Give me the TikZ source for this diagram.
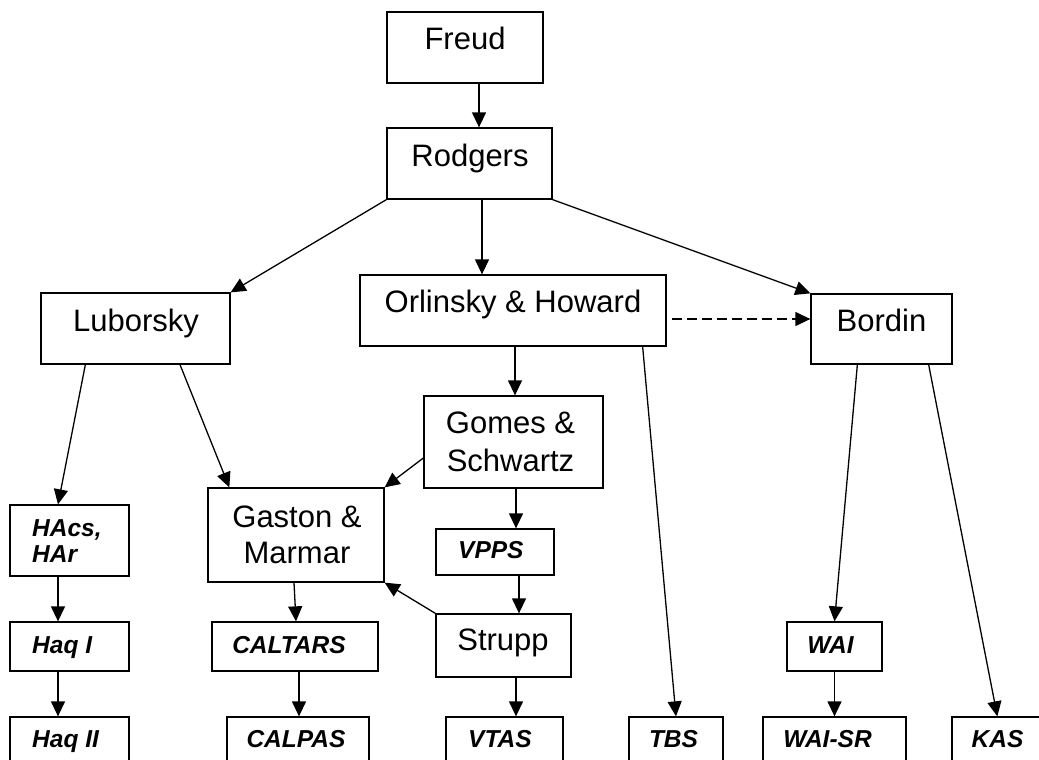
\documentclass[tikz,border=0pt]{standalone}
\usepackage{fontspec}
\setmainfont{Liberation Sans}
\usetikzlibrary{arrows.meta}
\begin{document}
\begin{tikzpicture}[x=1pt,y=-1pt,
  box/.style={draw, line width=1.3pt, inner sep=0pt, rectangle},
  big/.style={inner sep=0pt, font=\fontsize{31}{37}\selectfont},
  small/.style={inner sep=0pt, font=\fontsize{24.5}{26}\selectfont\bfseries\itshape},
  arr/.style={line width=1.3pt, -{Triangle[length=15pt,width=14pt]}},
  dasharr/.style={arr, dash pattern=on 10pt off 5pt}]
\useasboundingbox (0,0) rectangle (1039,760);
\clip (0,0) rectangle (1039,760);
\fill[white] (0,0) rectangle (1039,760);

% boxes
\node[box, minimum width=156, minimum height=71] (freud) at (465,47.5) {};
\node[box, minimum width=165, minimum height=71] (rodgers) at (469.5,163.5) {};
\node[box, minimum width=189, minimum height=71] (luborsky) at (135.5,328.5) {};
\node[box, minimum width=306, minimum height=71] (orlinsky) at (513,310.5) {};
\node[box, minimum width=141, minimum height=70] (bordin) at (881.5,329) {};
\node[box, minimum width=179, minimum height=92] (gomes) at (513.5,442) {};
\node[box, minimum width=176, minimum height=94] (gaston) at (296,535) {};
\node[box, minimum width=119, minimum height=71] (hacs) at (69.5,540.5) {};
\node[box, minimum width=119, minimum height=49] (haq1) at (69.5,646.5) {};
\node[box, minimum width=119, minimum height=83] (haq2) at (69.5,758.5) {};
\node[box, minimum width=166, minimum height=49] (caltars) at (295,646.5) {};
\node[box, minimum width=142, minimum height=83] (calpas) at (298,758.5) {};
\node[box, minimum width=118, minimum height=46] (vpps) at (495,552) {};
\node[box, minimum width=135, minimum height=63] (strupp) at (503.5,645.5) {};
\node[box, minimum width=117, minimum height=83] (vtas) at (504.5,758.5) {};
\node[box, minimum width=94, minimum height=83] (tbs) at (676,758.5) {};
\node[box, minimum width=95, minimum height=49] (wai) at (834.5,646.5) {};
\node[box, minimum width=143, minimum height=83] (waisr) at (834.5,758.5) {};
\node[box, minimum width=128, minimum height=83] (kas) at (1016,758.5) {};

% texts
\node[big, anchor=base] (freudT) at (465,50) {Freud};
\node[big, anchor=base] (rodgersT) at (470,166) {Rodgers};
\node[big, anchor=base] (luborskyT) at (136,331) {Luborsky};
\node[big, anchor=base] (orlinskyT) at (513,312) {Orlinsky \& Howard};
\node[big, anchor=base] (bordinT) at (881.5,331) {Bordin};
\node[big, anchor=base] (gomesT1) at (510.5,433) {Gomes \&};
\node[big, anchor=base] (gomesT2) at (510.5,471) {Schwartz};
\node[big, anchor=base] (gastonT1) at (297,527) {Gaston \&};
\node[big, anchor=base] (gastonT2) at (297,563) {Marmar};
\node[big, anchor=base] (struppT) at (503,650) {Strupp};
\node[small, anchor=base west] (hacsT1) at (32,536) {HAcs,};
\node[small, anchor=base west] (hacsT2) at (32,562) {HAr};
\node[small, anchor=base west] (haq1T) at (32,653) {Haq I};
\node[small, anchor=base west] (haq2T) at (32,747) {Haq II};
\node[small, anchor=base] (caltarsT) at (289,653) {CALTARS};
\node[small, anchor=base] (calpasT) at (296,747) {CALPAS};
\node[small, anchor=base west] (vppsT) at (458,558) {VPPS};
\node[small, anchor=base west] (vtasT) at (468,747) {VTAS};
\node[small, anchor=base] (tbsT) at (673.5,747) {TBS};
\node[small, anchor=base] (waiT) at (830.5,653) {WAI};
\node[small, anchor=base] (waisrT) at (827.5,747) {WAI-SR};
\node[small, anchor=base] (kasT) at (997.5,747) {KAS};

% connectors
\draw[arr] ([xshift=14pt]freud.south) -- ([xshift=9.5pt]rodgers.north);
\draw[arr] ([xshift=12.5pt]rodgers.south) -- ([xshift=-31pt]orlinsky.north);
\draw[arr] (rodgers.south west) -- (luborsky.north east);
\draw[arr] (rodgers.south east) -- (bordin.north west);
\draw[arr] ([xshift=2pt]orlinsky.south) -- ([xshift=1.5pt]gomes.north);
\draw[arr] ([xshift=-24pt]orlinsky.south east) -- (tbs.north);
\coordinate (dstart) at ([xshift=5pt,yshift=-8.5pt]orlinsky.east);
\draw[dasharr] (dstart) -- (dstart -| bordin.west);
\draw[arr] ([xshift=47pt]bordin.south west) -- (wai.north);
\draw[arr] ([xshift=-24pt]bordin.south east) -- ([xshift=46pt]kas.north west);
\draw[arr] (wai.south) -- (waisr.north);
\draw[arr] ([xshift=45pt]luborsky.south west) -- ([xshift=-11.5pt]hacs.north);
\draw[arr] ([xshift=-11.5pt]hacs.south) -- ([xshift=-11.5pt]haq1.north);
\draw[arr] ([xshift=-11.5pt]haq1.south) -- ([xshift=-11.5pt]haq2.north);
\draw[arr] ([xshift=44.5pt]luborsky.south) -- ([xshift=22pt]gaston.north west);
\draw[arr] ([yshift=-16pt]gomes.west) -- (gaston.north east);
\draw[arr] (strupp.north west) -- (gaston.south east);
\draw[arr] ([xshift=-2pt]gaston.south) -- ([xshift=1pt]caltars.north);
\draw[arr] ([xshift=4pt]caltars.south) -- ([xshift=1pt]calpas.north);
\draw[arr] ([xshift=2.5pt]gomes.south) -- ([xshift=21pt]vpps.north);
\draw[arr] ([xshift=24pt]vpps.south) -- ([xshift=15.5pt]strupp.north);
\draw[arr] ([xshift=12.5pt]strupp.south) -- ([xshift=11.5pt]vtas.north);
\end{tikzpicture}
\end{document}
